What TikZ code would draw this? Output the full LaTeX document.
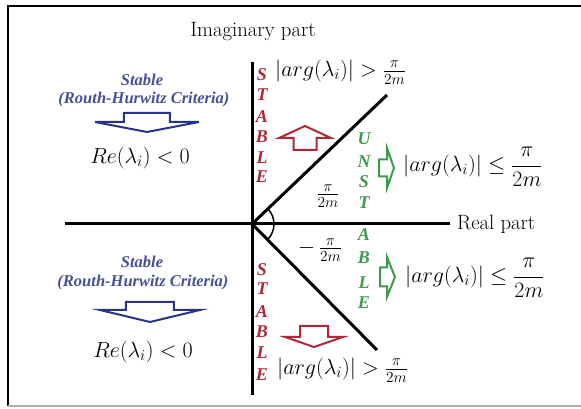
\RequirePackage{fix-cm}
\documentclass[tikz,border=0pt]{standalone}
\usepackage{amssymb, amsmath}
\usepackage{fontspec}
\usepackage{color}
\usepackage{tikz}
\usetikzlibrary{positioning}
\newfontfamily\letterfont{Liberation Serif}
\definecolor{stabred}{RGB}{172, 42, 55}
\definecolor{unstgreen}{RGB}{62, 155, 75}
\definecolor{rhblue}{RGB}{70, 80, 150}
\definecolor{rhdark}{RGB}{40, 52, 135}
\newcommand{\blockarrow}[8]{
  \pgfmathsetmacro{\hb}{-#4}
  \pgfmathsetmacro{\sb}{-#4 - #7}
  
  \draw[#8, line width=2, fill=white, shift={(#1, #2)}, rotate=#3] 
       (0, 0) -- (\hb, #5) -- (\hb, #6) -- (\sb, #6) 
    -- (\sb, -#6) -- (\hb, -#6) -- (\hb, -#5) -- cycle;
}

\begin{document}
\begin{tikzpicture}[x=1pt, y=1pt,
    axislabel/.style={font=\fontsize{20.7}{22}\selectfont, inner sep=0},
    formula/.style={font=\fontsize{22}{24}\selectfont, anchor=west, inner sep=0},
    stab/.style={stabred, font=\letterfont\fontsize{18}{18}\selectfont\bfseries\itshape, inner sep=0},
    unst/.style={unstgreen, font=\letterfont\fontsize{18}{18}\selectfont\bfseries\itshape, inner sep=0},
    rhtext/.style={rhblue, font=\letterfont\fontsize{16.5}{18}\selectfont\bfseries\itshape, inner sep=0}]
  \useasboundingbox (-252, -185) rectangle (329, 224);
  
  % frame
  \draw[line width=2] (-244, -182) -- (-244, 218) -- (329, 218);
  \draw[gray!60, line width=1.5] (-244, -182) -- (329, -182);
  
  % axes
  \coordinate (O) at (0, 0);
  \coordinate (ytop) at (0, 162);
  \coordinate (ybot) at (0, -171);
  \coordinate (xleft) at (-187, 0);
  \coordinate (xright) at (198, 0);
  \coordinate (upend) at (135, 129);
  \coordinate (loend) at (125, -126);
  
  \draw[line width=3] (ybot) -- (ytop);
  \draw[line width=3] (xleft) -- (xright);
  \draw[line width=3] (O) -- (upend);
  \draw[line width=3] (O) -- (loend);
  \draw[line width=1.5] (44:22) arc[start angle=44, end angle=-45, radius=22];
  
  \node[axislabel] (imag) at (1, 192) {Imaginary part};
  \node[axislabel, right=7pt of xright] (real) {Real part};
  
  \node[formula, anchor=center] (angup) at (76, 28) {$\frac{\pi}{2m}$};
  \node[formula, anchor=center] (anglo) at (68, -26) {$-\,\frac{\pi}{2m}$};
  
  % stable, upper and lower
  \foreach \ch/\y in {S/149, T/129, A/107, B/87, L/66, E/47} {
      \node[stab] (su-\ch) at (10, \y) {\ch};
  };
  \foreach \ch/\y in {S/-46, T/-65, A/-88, B/-108, L/-129, E/-151} {
      \node[stab] (sl-\ch) at (10, \y) {\ch};
  };
  \node[formula] (gtup) at (23, 152) {$|arg(\lambda_i)| > \frac{\pi}{2m}$};
  \node[formula] (gtlo) at (25, -146) {$|arg(\lambda_i)| > \frac{\pi}{2m}$};
  \blockarrow{53}{98}{90}{12}{26}{11.5}{12}{stabred}
  \blockarrow{62}{-123}{-90}{10}{29}{14}{11}{stabred}
  
  % unstable
  \foreach \ch/\y in {U/85, N/62, S/42, T/21, A/-11, B/-34, L/-59, E/-79} {
      \node[unst] (un-\ch) at (112, \y) {\ch};
  };
  \node[formula] (leup) at (151, 57) {$|arg(\lambda_i)| \leq \dfrac{\pi}{2m}$};
  \node[formula] (lelo) at (153, -54) {$|arg(\lambda_i)| \leq \dfrac{\pi}{2m}$};
  \blockarrow{142}{56}{0}{7}{20}{8.5}{8}{unstgreen}
  \blockarrow{143}{-53}{0}{8}{20}{9.5}{7}{unstgreen}
  
  % routh-hurwitz
  \node[rhtext] (stabup) at (-110, 144) {Stable};
  \node[rhtext] (rhup) at (-108, 124) {(Routh-Hurwitz Criteria)};
  \blockarrow{-105}{92}{-90}{10}{52}{23}{9}{rhdark}
  \node[formula, anchor=center] (reup) at (-112, 66) {$Re(\lambda_i) < 0$};
  
  \node[rhtext] (stablo) at (-110, -38) {Stable};
  \node[rhtext] (rhlo) at (-109, -59) {(Routh-Hurwitz Criteria)};
  \blockarrow{-102}{-98}{-90}{12}{50}{24}{8}{rhdark}
  \node[formula, anchor=center] (relo) at (-109, -128) {$Re(\lambda_i) < 0$};

\end{tikzpicture}
\end{document}
